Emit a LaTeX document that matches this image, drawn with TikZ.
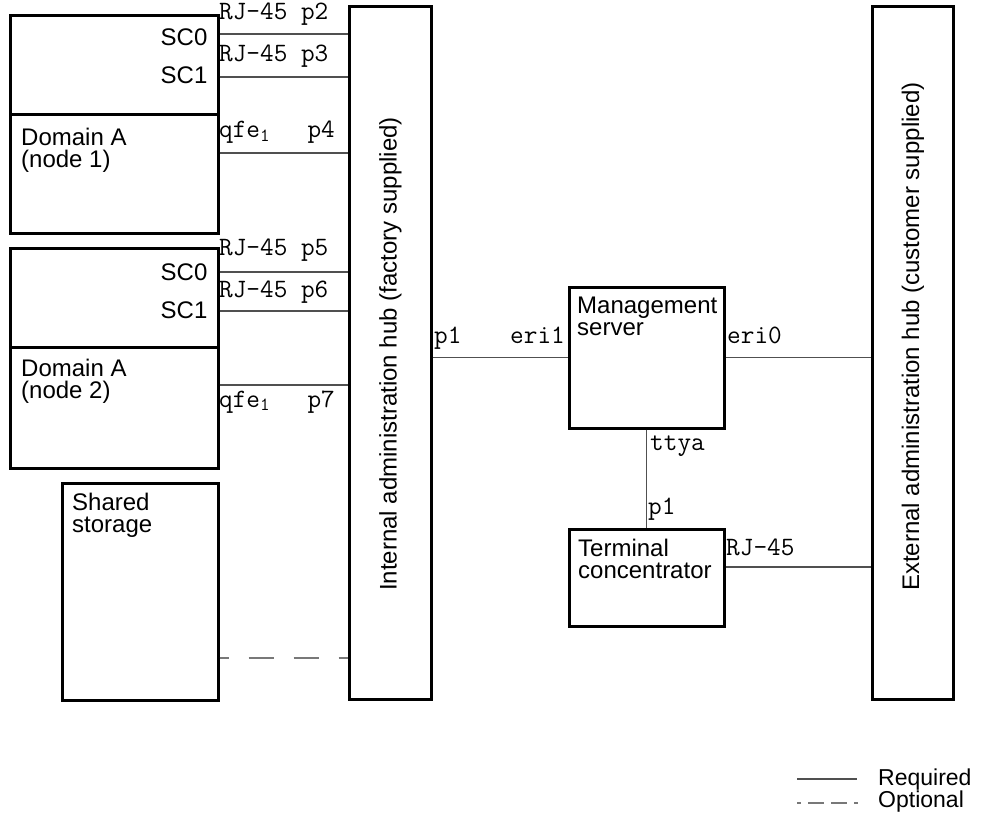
\documentclass[tikz,border=0pt]{standalone}
\usepackage{fontspec}
\setmainfont{Liberation Sans}
\usetikzlibrary{positioning}
\definecolor{wiregray}{RGB}{80,80,80}
\definecolor{dashgray}{RGB}{120,120,120}

\begin{document}
\begin{tikzpicture}[x=1pt, y=-1pt, font=\fontsize{24}{22}\selectfont,
      unit/.style={draw, line width=2.6pt, inner sep=0pt, anchor=north west},
      lbl/.style={inner sep=0pt, align=left, anchor=north west},
      port/.style={inner sep=0pt, anchor=base west, font=\ttfamily\fontsize{26.5}{26.5}\selectfont},
      hubtxt/.style={inner sep=0pt, rotate=90, anchor=west},
      keytxt/.style={inner sep=0pt, anchor=base west, font=\fontsize{23}{22}\selectfont},
      wire/.style={draw=wiregray, line width=1.1pt},
      optwire/.style={draw=dashgray, line width=1.3pt, dash pattern=on 25pt off 20pt}]
    \useasboundingbox (0,0) rectangle (990,818);

    % domain boxes and storage
    \node[unit, minimum width=208pt, minimum height=99pt] (sca) at (9,14) {};
    \node[unit, minimum width=208pt, minimum height=119pt] (doma) at (9,113) {};
    \node[unit, minimum width=208pt, minimum height=99pt] (scb) at (9,247) {};
    \node[unit, minimum width=208pt, minimum height=121pt] (domb) at (9,346) {};
    \node[unit, minimum width=156pt, minimum height=217pt] (stor) at (61,482) {};

    % hubs, server, concentrator
    \node[unit, minimum width=82pt, minimum height=693pt] (ihub) at (348,5) {};
    \node[unit, minimum width=81pt, minimum height=693pt] (ehub) at (871,5) {};
    \node[unit, minimum width=155pt, minimum height=141pt] (mgmt) at (568,286) {};
    \node[unit, minimum width=155pt, minimum height=97pt] (term) at (568,528) {};

    \node[lbl, below left=15pt and 12pt of sca.north east] {SC0};
    \node[lbl, below left=53pt and 12pt of sca.north east] {SC1};
    \node[lbl, below right=15pt and 12pt of doma.north west] {Domain A\\(node 1)};
    \node[lbl, below left=17pt and 12pt of scb.north east] {SC0};
    \node[lbl, below left=55pt and 12pt of scb.north east] {SC1};
    \node[lbl, below right=13pt and 12pt of domb.north west] {Domain A\\(node 2)};
    \node[lbl, below right=11pt and 11pt of stor.north west] {Shared\\storage};
    \node[lbl, below right=11pt and 9pt of mgmt.north west] {Management\\server};
    \node[lbl, below right=11pt and 10pt of term.north west] {Terminal\\concentrator};
    \node[hubtxt] at (ihub.center |- 0,591) {Internal administration hub (factory supplied)};
    \node[hubtxt] at (ehub.center |- 0,591) {External administration hub (customer supplied)};

    % port labels
    \node[port] (lp2) at (219,20) {RJ-45 p2};
    \node[port] (lp3) at (219,62) {RJ-45 p3};
    \node[port] (lq1) at (219,138) {qfe\textsubscript{1}};
    \node[port, anchor=base east] (lp4) at (335,138) {p4};
    \node[port] (lp5) at (219,256) {RJ-45 p5};
    \node[port] (lp6) at (219,298) {RJ-45 p6};
    \node[port] (lq2) at (219,407) {qfe\textsubscript{1}};
    \node[port, anchor=base east] (lp7) at (335,407) {p7};
    \node[port] (lhp1) at (434,343) {p1};
    \node[port, anchor=base east] (leri1) at (565,343) {eri1};
    \node[port] (leri0) at (727,343) {eri0};
    \node[port] (ltty) at (650,450) {ttya};
    \node[port] (ltp1) at (648,514) {p1};
    \node[port] (ltrj) at (726,555) {RJ-45};

    % connections
    \draw[wire] (sca.east |- 0,34) -- (ihub.west |- 0,34);
    \draw[wire] (sca.east |- 0,77) -- (ihub.west |- 0,77);
    \draw[wire] (doma.east |- 0,153) -- (ihub.west |- 0,153);
    \draw[wire] (scb.east |- 0,272) -- (ihub.west |- 0,272);
    \draw[wire] (scb.east |- 0,311) -- (ihub.west |- 0,311);
    \draw[wire] (domb.east |- 0,385) -- (ihub.west |- 0,385);
    \draw[optwire, dash phase=16pt] (stor.east |- 0,658) -- (ihub.west |- 0,658);
    \draw[wire] (ihub.east |- mgmt.west) -- (mgmt.west);
    \draw[wire] (mgmt.east) -- (ehub.west |- mgmt.east);
    \draw[wire] (mgmt.south) -- (term.north);
    \draw[wire] (term.east |- 0,567) -- (ehub.west |- 0,567);

    % legend
    \coordinate (reqa) at (797,779);
    \coordinate (reqb) at (857,779);
    \coordinate (opta) at (797,803);
    \coordinate (optb) at (858,803);
    \draw[wire] (reqa) -- (reqb);
    \draw[optwire, dash pattern=on 4pt off 7pt on 16pt off 7pt on 16pt off 7pt on 4pt off 20pt] (opta) -- (optb);
    \node[keytxt] at (878,785) {Required};
    \node[keytxt] at (878,807) {Optional};
  \end{tikzpicture}
\end{document}
